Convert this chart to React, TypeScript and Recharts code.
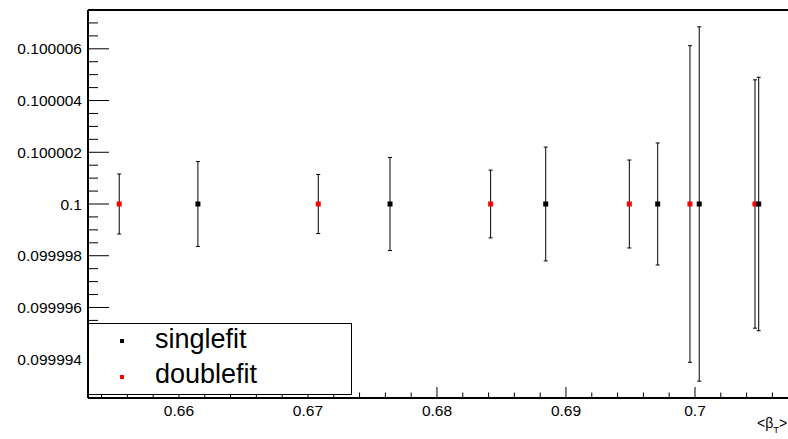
import { ScatterChart, Scatter, XAxis, YAxis, ErrorBar, Legend, ReferenceLine, Label } from "recharts";

// <beta_T> positions, values and errors
const singleX = [0.66147, 0.67636, 0.68843, 0.69711, 0.70033, 0.70494];
const singleY = [0.1, 0.1, 0.1, 0.1, 0.1, 0.1];
const singleErr = [1.64e-6, 1.8e-6, 2.2e-6, 2.36e-6, 6.85e-6, 4.9e-6];

const doubleX = [0.65537, 0.6708, 0.68416, 0.69491, 0.69961, 0.70465];
const doubleY = [0.1, 0.1, 0.1, 0.1, 0.1, 0.1];
const doubleErr = [1.16e-6, 1.14e-6, 1.31e-6, 1.7e-6, 6.12e-6, 4.8e-6];

const xMajorTicks = [0.66, 0.67, 0.68, 0.69, 0.7];
const xTickLabels = ["0.66", "0.67", "0.68", "0.69", "0.7"];
const yMajorTicks = [0.099994, 0.099996, 0.099998, 0.1, 0.100002, 0.100004, 0.100006];
const yTickLabels = ["0.099994", "0.099996", "0.099998", "0.1", "0.100002", "0.100004", "0.100006"];

const X_DOMAIN: [number, number] = [0.65295, 0.70721];
const Y_DOMAIN: [number, number] = [0.0999925, 0.1000075];

const singleData = singleX.map((x, i) => ({ x, y: singleY[i], err: singleErr[i] }));
const doubleData = doubleX.map((x, i) => ({ x, y: doubleY[i], err: doubleErr[i] }));

// minor ticks every step across the frame (ROOT style)
function subTicks(lo: number, hi: number, first: number, step: number) {
  const out: number[] = [];
  for (let k = 0; first + k * step <= hi; k++) {
    const v = +(first + k * step).toFixed(10);
    if (v >= lo) out.push(v);
  }
  return out;
}
const xTicks = subTicks(X_DOMAIN[0], X_DOMAIN[1], 0.654, 0.002);
const yTicks = subTicks(Y_DOMAIN[0], Y_DOMAIN[1], 0.0999925, 0.0000005);

const FONT = "'Liberation Sans', Arial, Helvetica, sans-serif";
const PLOT_LEFT = 88;
const PLOT_BOTTOM = 398;

const majorIndex = (v: number, majors: number[]) => majors.findIndex((m) => Math.abs(m - v) < 1e-12);

const XTick = (props: any) => {
  const { x, payload } = props;
  const idx = majorIndex(payload.value, xMajorTicks);
  const len = idx >= 0 ? 11 : 5.5;
  return (
    <g>
      <line x1={x} x2={x} y1={PLOT_BOTTOM} y2={PLOT_BOTTOM - len} stroke="#000" strokeWidth={1} />
      {idx >= 0 && (
        <text x={x} y={415.5} textAnchor="middle" fontSize={15.5} fontFamily={FONT} fill="#000">
          {xTickLabels[idx]}
        </text>
      )}
    </g>
  );
};

const YTick = (props: any) => {
  const { y, payload } = props;
  const idx = majorIndex(payload.value, yMajorTicks);
  const len = idx >= 0 ? 21 : 10;
  return (
    <g>
      <line x1={PLOT_LEFT} x2={PLOT_LEFT + len} y1={y} y2={y} stroke="#000" strokeWidth={1} />
      {idx >= 0 && (
        <text x={82} y={y} dy={5.5} textAnchor="end" fontSize={15.5} fontFamily={FONT} fill="#000">
          {yTickLabels[idx]}
        </text>
      )}
    </g>
  );
};

const Marker = (props: any) => {
  const { cx, cy, fill } = props;
  return <rect x={cx - 2.5} y={cy - 2.5} width={5} height={5} fill={fill} />;
};

const AxisTitle = () => (
  <text x={757} y={428} fontSize={14} fontFamily={FONT} fill="#000">
    {"<β"}
    <tspan fontSize={9.5} dy={5}>T</tspan>
    <tspan dy={-5}>{">"}</tspan>
  </text>
);

const LegendBox = () => (
  <svg width={264} height={72} style={{ display: "block" }}>
    <rect x={0.5} y={0.5} width={263} height={71} fill="#fff" stroke="#000" strokeWidth={1} />
    <rect x={32} y={16} width={4} height={4} fill="#000" />
    <text x={67} y={25} fontSize={27} fontFamily={FONT} fill="#000">singlefit</text>
    <rect x={32} y={52} width={4} height={4} fill="#ff0000" />
    <text x={67} y={60} fontSize={27} fontFamily={FONT} fill="#000">doublefit</text>
  </svg>
);

export default function App() {
  return (
    <div style={{ position: "absolute", left: 0, top: 0, width: 788, height: 439, background: "#fff" }}>
      <ScatterChart width={788} height={439} margin={{ top: 10, right: 0, bottom: 0, left: 8 }}>
        <XAxis
          dataKey="x"
          type="number"
          domain={X_DOMAIN}
          allowDataOverflow
          ticks={xTicks}
          interval={0}
          tickLine={false}
          tick={<XTick />}
          axisLine={{ stroke: "#000", strokeWidth: 2 }}
          height={41}
        >
          <Label content={<AxisTitle />} />
        </XAxis>
        <YAxis
          dataKey="y"
          type="number"
          domain={Y_DOMAIN}
          allowDataOverflow
          ticks={yTicks}
          interval={0}
          tickLine={false}
          tick={<YTick />}
          axisLine={{ stroke: "#000", strokeWidth: 2 }}
          width={80}
        />
        <ReferenceLine y={Y_DOMAIN[1]} stroke="#000" strokeWidth={2} ifOverflow="visible" />
        <Scatter name="doublefit" data={doubleData} fill="#ff0000" shape={<Marker />} isAnimationActive={false}>
          <ErrorBar dataKey="err" direction="y" width={2} stroke="#000" strokeWidth={1} isAnimationActive={false} />
        </Scatter>
        <Scatter name="singlefit" data={singleData} fill="#000" shape={<Marker />} isAnimationActive={false}>
          <ErrorBar dataKey="err" direction="y" width={2} stroke="#000" strokeWidth={1} isAnimationActive={false} />
        </Scatter>
        <Legend
          layout="horizontal"
          verticalAlign="middle"
          align="center"
          content={<LegendBox />}
          wrapperStyle={{ position: "absolute", left: 88, top: 323, width: 264, height: 72, margin: 0 }}
        />
      </ScatterChart>
    </div>
  );
}
